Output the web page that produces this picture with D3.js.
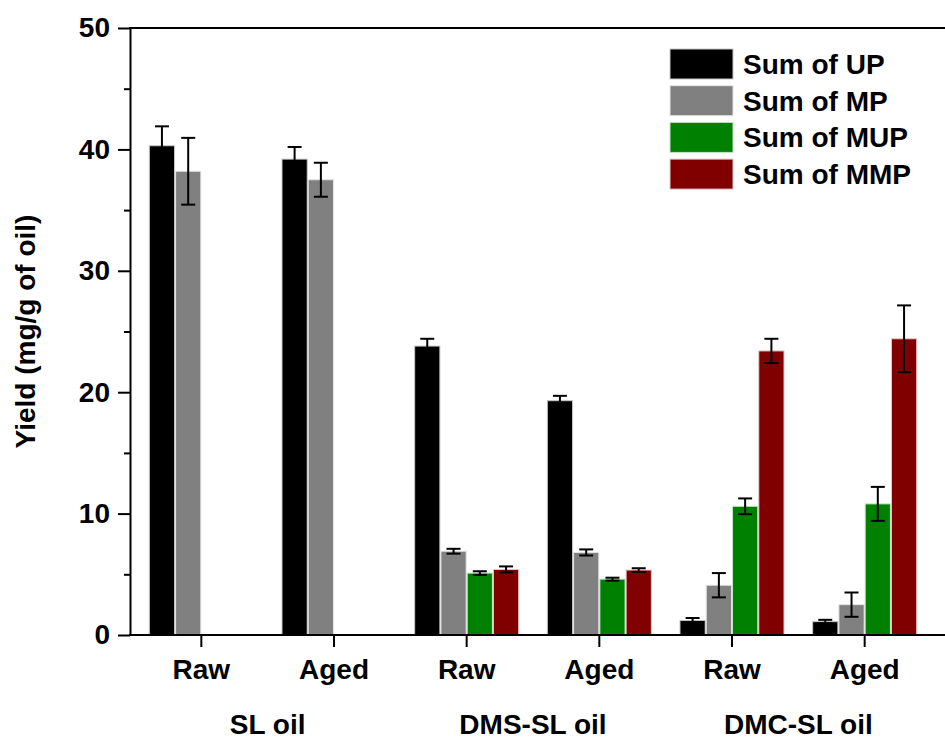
<!DOCTYPE html>
<html>
<head>
<meta charset="utf-8">
<script src="https://cdn.jsdelivr.net/npm/d3@7"></script>
<style>
  body { margin: 0; background: #fff; }
  text { font-family: "Liberation Sans", Arial, sans-serif; font-weight: bold; fill: #000; }
</style>
</head>
<body>
<div id="chart"></div>
<script>
var W = 945, H = 740;

// data
var samples = ["Raw", "Aged", "Raw", "Aged", "Raw", "Aged"];
var groups = ["SL oil", "DMS-SL oil", "DMC-SL oil"];
var series = ["Sum of UP", "Sum of MP", "Sum of MUP", "Sum of MMP"];
var colors = ["#000000", "#808080", "#008000", "#800000"];

var up = [40.3, 39.2, 23.8, 19.3, 1.2, 1.1];
var upErr = [1.6, 1.0, 0.6, 0.4, 0.2, 0.15];
var mp = [38.2, 37.5, 6.9, 6.8, 4.1, 2.5];
var mpErr = [2.75, 1.4, 0.2, 0.25, 1.0, 1.0];
var mup = [null, null, 5.1, 4.6, 10.6, 10.8];
var mupErr = [null, null, 0.15, 0.12, 0.65, 1.4];
var mmp = [null, null, 5.4, 5.35, 23.4, 24.4];
var mmpErr = [null, null, 0.25, 0.15, 1.0, 2.75];

var yTicks = [0, 10, 20, 30, 40, 50];

var values = [up, mp, mup, mmp];
var errors = [upErr, mpErr, mupErr, mmpErr];

var svg = d3.select("#chart").append("svg")
  .attr("width", W).attr("height", H);

var plotLeft = 130, plotTop = 28, plotBottom = 635;

var yScale = d3.scaleLinear().domain([0, 50]).range([plotBottom, plotTop]);
var xScale = d3.scaleBand()
  .domain(d3.range(samples.length))
  .range([135, 931])
  .paddingInner(0.216).paddingOuter(0.108);
var inner = d3.scaleBand()
  .domain(d3.range(series.length))
  .range([0, xScale.bandwidth()])
  .paddingInner(0.04);

// flatten to bar records
var bars = [];
samples.forEach(function (s, i) {
  series.forEach(function (name, k) {
    if (values[k][i] != null) {
      bars.push({ i: i, k: k, v: values[k][i], e: errors[k][i] });
    }
  });
});

var plot = svg.append("g");

plot.selectAll(".bar").data(bars).enter()
  .append("rect").attr("class", "bar")
  .attr("x", function (d) { return xScale(d.i) + inner(d.k); })
  .attr("y", function (d) { return yScale(d.v); })
  .attr("width", inner.bandwidth())
  .attr("height", function (d) { return yScale(0) - yScale(d.v); })
  .attr("fill", function (d) { return colors[d.k]; })
  .attr("stroke", function (d) { return d3.interpolateRgb(colors[d.k], "#fff")(0.78); })
  .attr("stroke-width", 1);

// error bars
var eb = plot.selectAll(".err").data(bars).enter().append("g").attr("class", "err")
  .attr("transform", function (d) {
    return "translate(" + (xScale(d.i) + inner(d.k) + inner.bandwidth() / 2) + ",0)";
  });
eb.append("line")
  .attr("y1", function (d) { return yScale(d.v + d.e); })
  .attr("y2", function (d) { return yScale(d.v - d.e); })
  .attr("stroke", "#000").attr("stroke-width", 2);
eb.append("line").attr("x1", -7).attr("x2", 7)
  .attr("y1", function (d) { return yScale(d.v + d.e); })
  .attr("y2", function (d) { return yScale(d.v + d.e); })
  .attr("stroke", "#000").attr("stroke-width", 2);
eb.append("line").attr("x1", -7).attr("x2", 7)
  .attr("y1", function (d) { return yScale(d.v - d.e); })
  .attr("y2", function (d) { return yScale(d.v - d.e); })
  .attr("stroke", "#000").attr("stroke-width", 2);

// y axis: minor ticks then major
svg.append("g").attr("transform", "translate(" + plotLeft + ",0)")
  .call(d3.axisLeft(yScale).tickValues(d3.range(5, 50, 10)).tickSize(6).tickSizeOuter(0).tickFormat(""))
  .call(function (g) { g.select(".domain").remove(); })
  .selectAll("line").attr("stroke-width", 2);

var yAxis = svg.append("g").attr("transform", "translate(" + plotLeft + ",0)")
  .call(d3.axisLeft(yScale).tickValues(yTicks).tickSize(12).tickSizeOuter(0).tickPadding(8));
yAxis.select(".domain").attr("stroke-width", 2);
yAxis.selectAll("line").attr("stroke-width", 2);
yAxis.selectAll("text").style("font-size", "28px");

// x axis
var xAxis = svg.append("g").attr("transform", "translate(0," + plotBottom + ")")
  .call(d3.axisBottom(xScale).tickSize(12).tickSizeOuter(0).tickPadding(12)
    .tickFormat(function (d) { return samples[d]; }));
xAxis.select(".domain").remove();
xAxis.selectAll("line").attr("stroke-width", 2);
xAxis.selectAll("text").style("font-size", "28px");

// frame lines (bottom and top)
svg.append("line").attr("x1", plotLeft - 1).attr("x2", W + 5)
  .attr("y1", plotBottom).attr("y2", plotBottom)
  .attr("stroke", "#000").attr("stroke-width", 2);
svg.append("line").attr("x1", plotLeft - 1).attr("x2", W + 5)
  .attr("y1", plotTop).attr("y2", plotTop)
  .attr("stroke", "#000").attr("stroke-width", 2);

// group labels
svg.selectAll(".grp").data(groups).enter()
  .append("text").attr("class", "grp")
  .attr("x", function (d, j) {
    return (xScale(j * 2) + xScale(j * 2 + 1) + xScale.bandwidth()) / 2;
  })
  .attr("y", 734)
  .attr("text-anchor", "middle")
  .style("font-size", "28px")
  .text(function (d) { return d; });

// y title
svg.append("text")
  .attr("transform", "translate(35," + ((plotTop + plotBottom) / 2) + ") rotate(-90)")
  .attr("text-anchor", "middle")
  .style("font-size", "28px")
  .text("Yield (mg/g of oil)");

// legend
var legend = svg.append("g").attr("transform", "translate(670,49)");
var item = legend.selectAll(".item").data(series).enter()
  .append("g").attr("class", "item")
  .attr("transform", function (d, k) { return "translate(0," + (k * 36.7) + ")"; });
item.append("rect")
  .attr("width", 63).attr("height", 30)
  .attr("fill", function (d, k) { return colors[k]; })
  .attr("stroke", function (d, k) { return d3.interpolateRgb(colors[k], "#fff")(0.78); })
  .attr("stroke-width", 1);
item.append("text")
  .attr("x", 73).attr("y", 25)
  .style("font-size", "28px")
  .text(function (d) { return d; });
</script>
</body>
</html>
